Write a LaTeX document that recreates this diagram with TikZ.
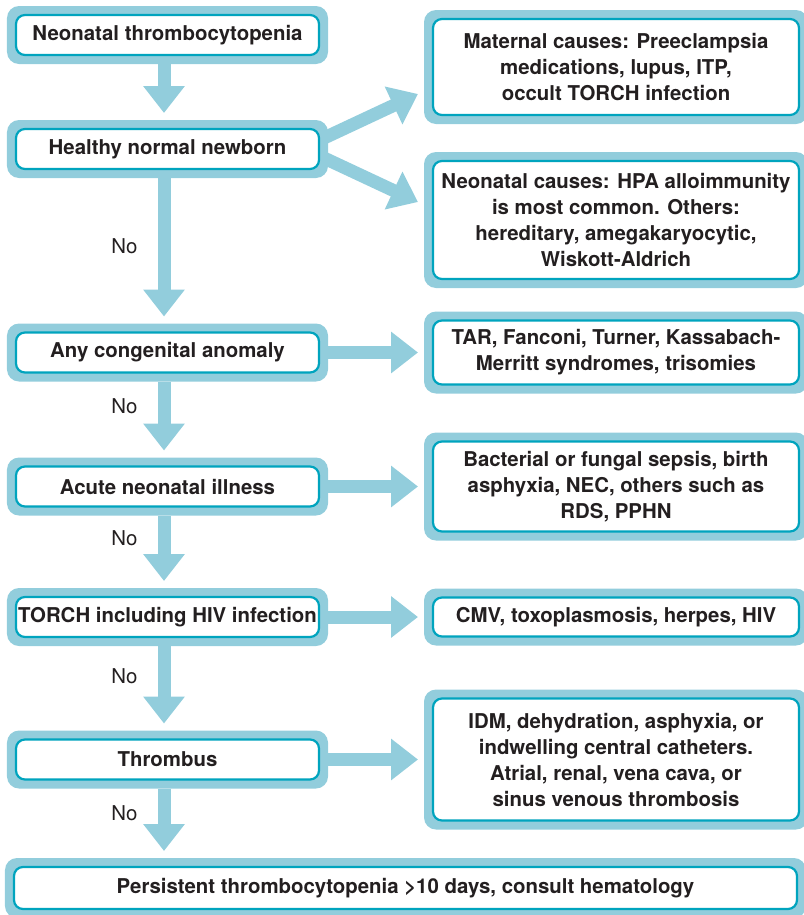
\documentclass[tikz,border=0pt]{standalone}
\usepackage{fontspec}
\setmainfont{TeX Gyre Heros}
\usepackage{tikz}
\usetikzlibrary{arrows.meta,backgrounds}
\usepackage{xcolor}
\definecolor{fblue}{RGB}{146,205,220}
\definecolor{fteal}{RGB}{0,164,190}
\definecolor{ftext}{RGB}{35,31,32}

\tikzset{
  cbox/.style={fill=fblue,rounded corners=12bp,inner sep=0pt,outer sep=0pt,
    align=center,text=ftext,font=\bfseries\fontsize{20.4bp}{26bp}\selectfont,
    path picture={\draw[fteal,fill=white,line width=2.2bp,rounded corners=9bp]
      ([shift={(9bp,9bp)}]path picture bounding box.south west) rectangle
      ([shift={(-9bp,-9bp)}]path picture bounding box.north east);}},
  lbox/.style={cbox,minimum width=321bp,minimum height=58bp},
  rbox/.style={cbox,minimum width=384bp}
}

\begin{document}
\begin{tikzpicture}[x=1bp,y=-1bp,
  flow/.style={draw=fblue,line width=13bp,-{Triangle[width=40bp,length=27bp]}},
  no/.style={font=\fontsize{20.4bp}{26bp}\selectfont,text=ftext,inner sep=0pt}]
  \useasboundingbox (0,0) rectangle (804,915);
  % questions
  \node[lbox] (neo) at (167.5,35) {Neonatal thrombocytopenia};
  \node[lbox] (hn) at (167.5,149) {Healthy normal newborn};
  \node[lbox] (cong) at (167.5,352.5) {Any congenital anomaly};
  \node[lbox] (acute) at (167.5,486.5) {Acute neonatal illness};
  \node[lbox] (torch) at (167.5,617) {TORCH including HIV infection};
  \node[lbox] (thr) at (167.5,759.5) {Thrombus};
  \node[cbox,minimum width=801bp,minimum height=60bp] (pers) at (405.5,888)
    {Persistent thrombocytopenia >10 days, consult hematology};
  % causes
  \node[rbox,minimum height=114bp] (mat) at (616,67)
    {Maternal causes: Preeclampsia\\ medications, lupus, ITP,\\ occult TORCH infection};
  \node[rbox,minimum height=136bp] (nc) at (616,220)
    {Neonatal causes: HPA alloimmunity\\ is most common. Others:\\ hereditary, amegakaryocytic,\\ Wiskott-Aldrich};
  \node[rbox,minimum height=82bp] (tar) at (616,352.5)
    {TAR, Fanconi, Turner, Kassabach-\\Merritt syndromes, trisomies};
  \node[rbox,minimum height=108bp] (sep) at (616,486.5)
    {Bacterial or fungal sepsis, birth\\ asphyxia, NEC, others such as\\ RDS, PPHN};
  \node[rbox,minimum height=57bp] (cmv) at (616,617) {CMV, toxoplasmosis, herpes, HIV};
  \node[rbox,minimum height=140bp] (idm) at (616,759.5)
    {IDM, dehydration, asphyxia, or\\ indwelling central catheters.\\ Atrial, renal, vena cava, or\\ sinus venous thrombosis};
  % arrows
  \begin{scope}[on background layer]
    \draw[flow] ([xshift=-3.5bp]neo.south) -- ([xshift=-3.5bp,yshift=7bp]hn.north);
    \draw[flow] ([xshift=-3.5bp]hn.south) -- node[no,pos=.49,left=20bp]{No} ([xshift=-3.5bp,yshift=7bp]cong.north);
    \draw[flow] ([xshift=-3.5bp]cong.south) -- node[no,pos=.36,left=20bp]{No} ([xshift=-3.5bp,yshift=7bp]acute.north);
    \draw[flow] ([xshift=-3.5bp]acute.south) -- node[no,pos=.35,left=20bp]{No} ([xshift=-3.5bp,yshift=7bp]torch.north);
    \draw[flow] ([xshift=-3.5bp]torch.south) -- node[no,pos=.39,left=20bp]{No} ([xshift=-3.5bp,yshift=7bp]thr.north);
    \draw[flow] ([xshift=-3.5bp]thr.south) -- node[no,pos=.39,left=20bp]{No} ([xshift=-3.5bp,yshift=7bp]pers.north -| neo.south);
    \draw[flow] ([shift={(-4bp,11bp)}]hn.east) -- ([shift={(-6bp,-27bp)}]mat.west);
    \draw[flow] ([shift={(-4bp,-9bp)}]hn.east) -- ([shift={(-6bp,18bp)}]nc.west);
    \draw[flow] (cong.east) -- ([xshift=-6bp]tar.west);
    \draw[flow] (acute.east) -- ([xshift=-6bp]sep.west);
    \draw[flow] (torch.east) -- ([xshift=-6bp]cmv.west);
    \draw[flow] (thr.east) -- ([xshift=-6bp]idm.west);
  \end{scope}
\end{tikzpicture}
\end{document}
